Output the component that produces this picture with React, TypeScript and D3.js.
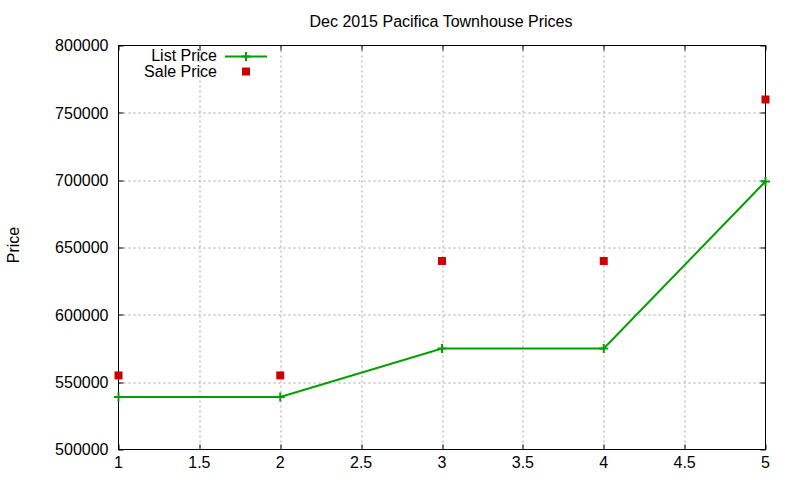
import * as d3 from "d3";
import React, { useEffect, useRef } from "react";

// chart data
const xValues = [1, 2, 3, 4, 5];
const listPrice = [539000, 539000, 575000, 575000, 699000];
const salePrice = [555000, 555000, 640000, 640000, 759900];
const xTicks = [1, 1.5, 2, 2.5, 3, 3.5, 4, 4.5, 5];
const yTicks = [500000, 550000, 600000, 650000, 700000, 750000, 800000];

const width = 800;
const height = 480;
const margin = { left: 118.5, right: 34.5, top: 45.5, bottom: 30.5 };
const font = "'Liberation Sans', Arial, sans-serif";
const green = "#00a000";
const red = "#cc0000";

export default function App() {
  const gRef = useRef<SVGGElement>(null);

  useEffect(() => {
    const innerWidth = width - margin.left - margin.right;
    const innerHeight = height - margin.top - margin.bottom;

    const xScale = d3.scaleLinear().domain([1, 5]).range([0, innerWidth]);
    const yScale = d3.scaleLinear().domain([500000, 800000]).range([innerHeight, 0]);

    const g = d3.select(gRef.current);
    g.selectAll("*").remove();
    g.attr("transform", `translate(${margin.left},${margin.top})`);

    // grid
    const grid = g.append("g")
      .attr("stroke", "#a0a0a0")
      .attr("stroke-width", 1)
      .attr("stroke-dasharray", "2,3");
    grid.selectAll(".gx")
      .data(xTicks.slice(1, -1))
      .enter().append("line")
      .attr("x1", (d) => Math.round(xScale(d)) + 0.5)
      .attr("x2", (d) => Math.round(xScale(d)) + 0.5)
      .attr("y1", 0)
      .attr("y2", innerHeight);
    grid.selectAll(".gy")
      .data(yTicks.slice(1, -1))
      .enter().append("line")
      .attr("y1", (d) => Math.round(yScale(d)) + 0.5)
      .attr("y2", (d) => Math.round(yScale(d)) + 0.5)
      .attr("x1", 0)
      .attr("x2", innerWidth);

    // tick marks (inside, mirrored)
    const ticks = g.append("g").attr("stroke", "#000").attr("stroke-width", 1);
    const tickLen = 5;
    xTicks.forEach((t) => {
      const x = Math.round(xScale(t)) + 0.5;
      ticks.append("line").attr("x1", x).attr("x2", x).attr("y1", innerHeight).attr("y2", innerHeight - tickLen);
      ticks.append("line").attr("x1", x).attr("x2", x).attr("y1", 0).attr("y2", tickLen);
    });
    yTicks.forEach((t) => {
      const y = Math.round(yScale(t)) + 0.5;
      ticks.append("line").attr("x1", 0).attr("x2", tickLen).attr("y1", y).attr("y2", y);
      ticks.append("line").attr("x1", innerWidth).attr("x2", innerWidth - tickLen).attr("y1", y).attr("y2", y);
    });

    // border
    g.append("rect")
      .attr("width", innerWidth)
      .attr("height", innerHeight)
      .attr("fill", "none")
      .attr("stroke", "#000")
      .attr("stroke-width", 1);

    // tick labels
    g.selectAll(".xl")
      .data(xTicks)
      .enter().append("text")
      .attr("x", (d) => xScale(d))
      .attr("y", innerHeight + 18)
      .attr("text-anchor", "middle")
      .attr("font-family", font)
      .attr("font-size", 16)
      .text((d) => String(d));
    g.selectAll(".yl")
      .data(yTicks)
      .enter().append("text")
      .attr("x", -10)
      .attr("y", (d) => yScale(d))
      .attr("dy", "0.36em")
      .attr("text-anchor", "end")
      .attr("font-family", font)
      .attr("font-size", 16)
      .text((d) => String(d));

    // list price line
    const points = xValues.map((x, i) => [x, listPrice[i]] as [number, number]);
    const line = d3.line<[number, number]>()
      .x((d) => xScale(d[0]))
      .y((d) => yScale(d[1]));
    g.append("path")
      .attr("d", line(points))
      .attr("fill", "none")
      .attr("stroke", green)
      .attr("stroke-width", 2);
    const plus = (sel: d3.Selection<SVGGElement, unknown, null, undefined>, cx: number, cy: number) => {
      sel.append("path")
        .attr("d", `M${cx - 4.5},${cy}H${cx + 4.5}M${cx},${cy - 4.5}V${cy + 4.5}`)
        .attr("stroke", green)
        .attr("stroke-width", 2);
    };
    points.forEach((p) => plus(g, xScale(p[0]), yScale(p[1])));

    // sale price squares
    g.selectAll(".sale")
      .data(xValues.map((x, i) => [x, salePrice[i]]))
      .enter().append("rect")
      .attr("x", (d) => xScale(d[0]) - 4)
      .attr("y", (d) => yScale(d[1]) - 4)
      .attr("width", 8)
      .attr("height", 8)
      .attr("fill", red);

    // legend
    const legend = g.append("g").attr("transform", `translate(${-margin.left},${-margin.top})`);
    legend.append("text")
      .attr("x", 217).attr("y", 61)
      .attr("text-anchor", "end")
      .attr("font-family", font).attr("font-size", 16)
      .text("List Price");
    legend.append("line")
      .attr("x1", 225).attr("x2", 267).attr("y1", 56.5).attr("y2", 56.5)
      .attr("stroke", green).attr("stroke-width", 2);
    plus(legend, 246, 56.5);
    legend.append("text")
      .attr("x", 217).attr("y", 77)
      .attr("text-anchor", "end")
      .attr("font-family", font).attr("font-size", 16)
      .text("Sale Price");
    legend.append("rect")
      .attr("x", 242).attr("y", 67.5).attr("width", 8).attr("height", 8)
      .attr("fill", red);
  }, []);

  return (
    <svg width={width} height={height} style={{ position: "absolute", left: 0, top: 0, background: "#fff" }}>
      <text x={441} y={27} textAnchor="middle" fontFamily={font} fontSize={16}>
        Dec 2015 Pacifica Townhouse Prices
      </text>
      <text transform="translate(19,245) rotate(-90)" textAnchor="middle" fontFamily={font} fontSize={16}>
        Price
      </text>
      <g ref={gRef}></g>
    </svg>
  );
}
